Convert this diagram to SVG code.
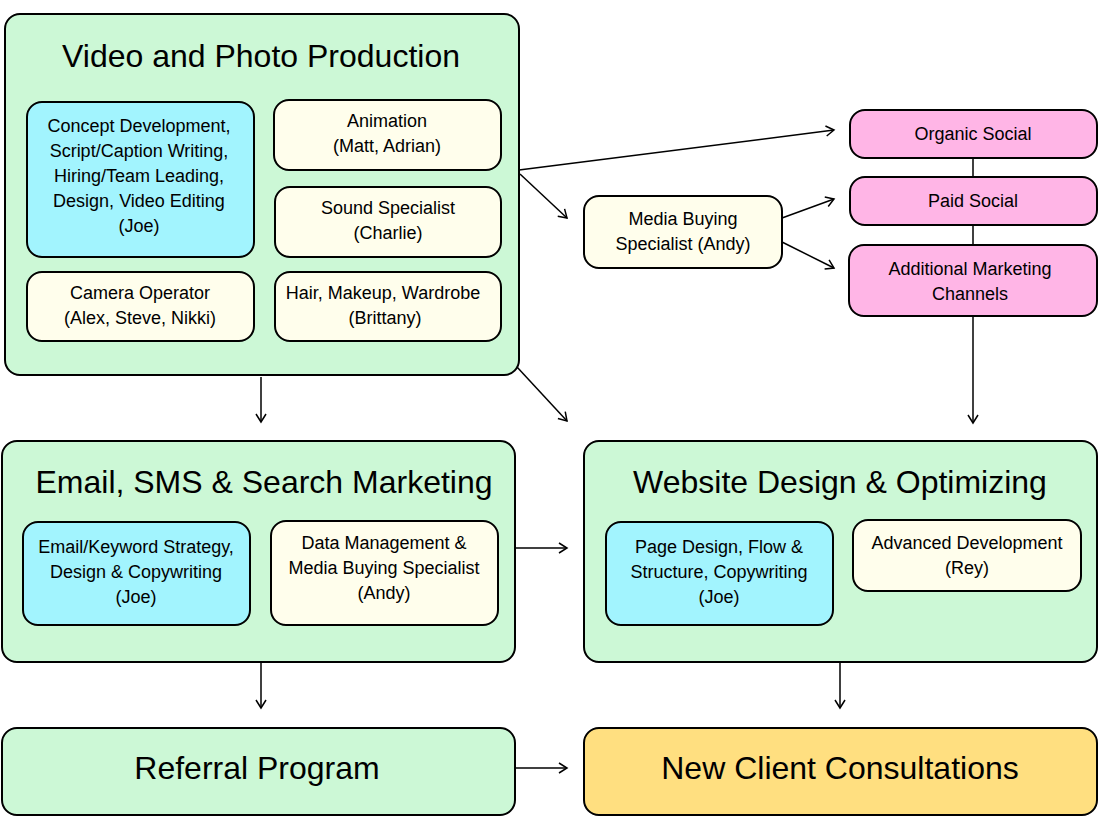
<svg xmlns="http://www.w3.org/2000/svg" width="1099" height="817" viewBox="0 0 1099 817">
<defs>
<marker id="ah" markerWidth="12" markerHeight="12" refX="10" refY="6" orient="auto" markerUnits="userSpaceOnUse">
<path d="M2,1 L10,6 L2,11" fill="none" stroke="#000" stroke-width="1.5"/>
</marker>
<style>
.g{fill:#ccf8d6;stroke:#000;stroke-width:2}
.b{fill:#a2f4fe;stroke:#000;stroke-width:2}
.c{fill:#fffeec;stroke:#000;stroke-width:2}
.p{fill:#ffb5e6;stroke:#000;stroke-width:2}
.y{fill:#ffdf80;stroke:#000;stroke-width:2}
text{font-family:"Liberation Sans",Arial,sans-serif;text-anchor:middle;dominant-baseline:central;fill:#000}
.t{font-size:32px}
.s{font-size:18px}
.e{stroke:#000;stroke-width:1.5;fill:none}
</style>
</defs>
<rect width="1099" height="817" fill="#fff"/>
<g id="video">
<rect class="g" x="5" y="14" width="514" height="361" rx="15"/>
<text class="t" x="261" y="56">Video and Photo Production</text>
</g>
<g id="concept">
<rect class="b" x="27" y="102" width="227" height="155" rx="15"/>
<text class="s" x="139" y="126">Concept Development,</text>
<text class="s" x="139" y="151">Script/Caption Writing,</text>
<text class="s" x="139" y="176">Hiring/Team Leading,</text>
<text class="s" x="139" y="201">Design, Video Editing</text>
<text class="s" x="139" y="226">(Joe)</text>
</g>
<g id="animation">
<rect class="c" x="274" y="100" width="227" height="70" rx="15"/>
<text class="s" x="387" y="121">Animation</text>
<text class="s" x="387" y="146">(Matt, Adrian)</text>
</g>
<g id="sound">
<rect class="c" x="275" y="187" width="226" height="70" rx="15"/>
<text class="s" x="388" y="208">Sound Specialist</text>
<text class="s" x="388" y="233">(Charlie)</text>
</g>
<g id="camera">
<rect class="c" x="27" y="272" width="227" height="69" rx="15"/>
<text class="s" x="140" y="293">Camera Operator</text>
<text class="s" x="140" y="318">(Alex, Steve, Nikki)</text>
</g>
<g id="hair">
<rect class="c" x="275" y="272" width="226" height="69" rx="15"/>
<text class="s" x="383" y="293">Hair, Makeup, Wardrobe</text>
<text class="s" x="385" y="318">(Brittany)</text>
</g>
<g id="media">
<rect class="c" x="584" y="196" width="198" height="72" rx="15"/>
<text class="s" x="683" y="219">Media Buying</text>
<text class="s" x="683" y="244">Specialist (Andy)</text>
</g>
<g id="organic">
<rect class="p" x="850" y="110" width="247" height="48" rx="15"/>
<text class="s" x="973" y="134">Organic Social</text>
</g>
<g id="paid">
<rect class="p" x="850" y="177" width="247" height="48" rx="15"/>
<text class="s" x="973" y="201">Paid Social</text>
</g>
<g id="additional">
<rect class="p" x="849" y="245" width="248" height="71" rx="15"/>
<text class="s" x="970" y="269">Additional Marketing</text>
<text class="s" x="970" y="294">Channels</text>
</g>
<g id="email">
<rect class="g" x="2" y="441" width="513" height="221" rx="15"/>
<text class="t" x="264" y="482">Email, SMS &amp; Search Marketing</text>
</g>
<g id="emailstrategy">
<rect class="b" x="23" y="522" width="227" height="103" rx="15"/>
<text class="s" x="136" y="547">Email/Keyword Strategy,</text>
<text class="s" x="136" y="572">Design &amp; Copywriting</text>
<text class="s" x="136" y="597">(Joe)</text>
</g>
<g id="data">
<rect class="c" x="271" y="521" width="227" height="104" rx="15"/>
<text class="s" x="384" y="543">Data Management &amp;</text>
<text class="s" x="384" y="568">Media Buying Specialist</text>
<text class="s" x="384" y="593">(Andy)</text>
</g>
<g id="website">
<rect class="g" x="584" y="441" width="513" height="221" rx="15"/>
<text class="t" x="840" y="482">Website Design &amp; Optimizing</text>
</g>
<g id="page">
<rect class="b" x="606" y="522" width="227" height="103" rx="15"/>
<text class="s" x="719" y="547">Page Design, Flow &amp;</text>
<text class="s" x="719" y="572">Structure, Copywriting</text>
<text class="s" x="719" y="597">(Joe)</text>
</g>
<g id="advanced">
<rect class="c" x="853" y="520" width="228" height="71" rx="15"/>
<text class="s" x="967" y="543">Advanced Development</text>
<text class="s" x="967" y="568">(Rey)</text>
</g>
<g id="referral">
<rect class="g" x="2" y="728" width="513" height="87" rx="15"/>
<text class="t" x="257" y="768">Referral Program</text>
</g>
<g id="newclient">
<rect class="y" x="584" y="728" width="513" height="87" rx="15"/>
<text class="t" x="840" y="768">New Client Consultations</text>
</g>
<g id="connectors">
<line class="e" x1="519" y1="170" x2="834" y2="130" marker-end="url(#ah)"/>
<line class="e" x1="520" y1="174" x2="567" y2="218" marker-end="url(#ah)"/>
<line class="e" x1="782" y1="218" x2="834" y2="199" marker-end="url(#ah)"/>
<line class="e" x1="782" y1="242" x2="834" y2="268" marker-end="url(#ah)"/>
<line class="e" x1="973" y1="158" x2="973" y2="177"/>
<line class="e" x1="973" y1="225" x2="973" y2="245"/>
<line class="e" x1="973" y1="316" x2="973" y2="423" marker-end="url(#ah)"/>
<line class="e" x1="261" y1="377" x2="261" y2="422" marker-end="url(#ah)"/>
<line class="e" x1="517" y1="367" x2="567" y2="421" marker-end="url(#ah)"/>
<line class="e" x1="515" y1="548" x2="567" y2="548" marker-end="url(#ah)"/>
<line class="e" x1="261" y1="663" x2="261" y2="708" marker-end="url(#ah)"/>
<line class="e" x1="840" y1="663" x2="840" y2="708" marker-end="url(#ah)"/>
<line class="e" x1="515" y1="768" x2="567" y2="768" marker-end="url(#ah)"/>
</g>
</svg>
